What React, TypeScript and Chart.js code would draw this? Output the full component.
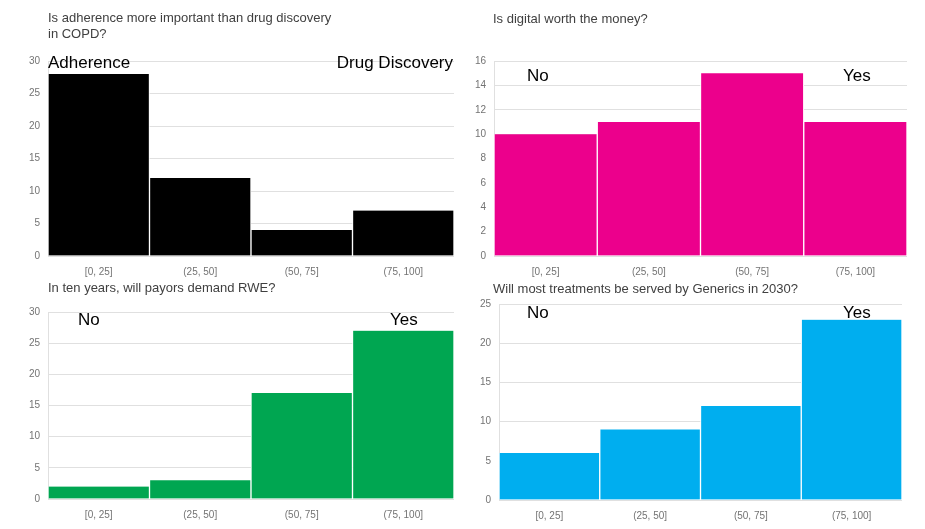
import React, { useEffect, useRef } from "react";
import { Chart, registerables } from "chart.js";

Chart.register(...registerables);

// ---- data ----
const categories = ["[0, 25]", "(25, 50]", "(50, 75]", "(75, 100]"];
const copdValues = [28, 12, 4, 7];
const digitalValues = [10, 11, 15, 11];
const rweValues = [2, 3, 17, 27];
const genericsValues = [6, 9, 12, 23];
const yMaxes = [30, 16, 30, 25];
const ySteps = [5, 2, 5, 5];
const titles = [
  ["Is adherence more important than drug discovery", "in COPD?"],
  ["Is digital worth the money?"],
  ["In ten years, will payors demand RWE?"],
  ["Will most treatments be served by Generics in 2030?"],
];

const FONT = "'Liberation Sans', Arial, sans-serif";
const Y_W = 40;
const X_H = 30;
const PAD_T = 20;
const PAD_R = 10;

type Rect = { left: number; right: number; top: number; bottom: number };

function Panel({
  values,
  color,
  max,
  step,
  plot,
}: {
  values: number[];
  color: string;
  max: number;
  step: number;
  plot: Rect;
}) {
  const ref = useRef<HTMLCanvasElement | null>(null);
  const x = plot.left - Y_W;
  const y = plot.top - PAD_T;
  const w = plot.right + PAD_R - x;
  const h = plot.bottom + X_H - y;

  useEffect(() => {
    if (!ref.current) return;
    const chart = new Chart(ref.current, {
      type: "bar",
      data: {
        labels: categories,
        datasets: [
          {
            data: values,
            backgroundColor: color,
            borderColor: "#ffffff",
            borderWidth: { left: 1, right: 1, top: 0, bottom: 0 } as any,
            borderSkipped: false,
            barPercentage: 1,
            categoryPercentage: 1,
          },
        ],
      },
      options: {
        responsive: false,
        maintainAspectRatio: false,
        animation: false,
        layout: { padding: { top: PAD_T, right: PAD_R, left: 0, bottom: 0 } },
        plugins: { legend: { display: false }, tooltip: { enabled: false } },
        scales: {
          x: {
            grid: { display: false, drawTicks: false },
            border: { display: false },
            ticks: {
              padding: 10,
              color: "#737373",
              font: { family: FONT, size: 10 },
              maxRotation: 0,
            },
            afterFit: (s: any) => {
              s.height = X_H;
            },
          },
          y: {
            min: 0,
            max,
            ticks: {
              stepSize: step,
              padding: 8,
              color: "#737373",
              font: { family: FONT, size: 10 },
            },
            grid: { color: "#e0e0e0", drawTicks: false },
            border: { display: true, color: "#e0e0e0" },
            afterFit: (s: any) => {
              s.width = Y_W;
            },
          },
        },
      },
    });
    return () => chart.destroy();
  }, []);

  return (
    <canvas
      ref={ref}
      width={w}
      height={h}
      style={{ position: "absolute", left: x, top: y, width: w, height: h }}
    />
  );
}

const titleStyle: React.CSSProperties = {
  position: "absolute",
  fontFamily: FONT,
  fontSize: 13,
  lineHeight: "16px",
  color: "#404040",
  whiteSpace: "nowrap",
};
const noteStyle: React.CSSProperties = {
  position: "absolute",
  fontFamily: FONT,
  fontSize: 17,
  lineHeight: "20px",
  color: "#000000",
  whiteSpace: "nowrap",
};

export default function App() {
  return (
    <div
      style={{
        position: "absolute",
        left: 0,
        top: 0,
        width: 925,
        height: 529,
        background: "#ffffff",
        overflow: "hidden",
      }}
    >
      <Panel values={copdValues} color="#000000" max={yMaxes[0]} step={ySteps[0]} plot={{ left: 48, right: 454, top: 61, bottom: 256 }} />
      <Panel values={digitalValues} color="#EC008C" max={yMaxes[1]} step={ySteps[1]} plot={{ left: 494, right: 907, top: 61, bottom: 256 }} />
      <Panel values={rweValues} color="#00A651" max={yMaxes[2]} step={ySteps[2]} plot={{ left: 48, right: 454, top: 312, bottom: 499 }} />
      <Panel values={genericsValues} color="#00AEEF" max={yMaxes[3]} step={ySteps[3]} plot={{ left: 499, right: 902, top: 304, bottom: 500 }} />

      <div style={{ ...titleStyle, left: 48, top: 10 }}>
        {titles[0][0]}
        <br />
        {titles[0][1]}
      </div>
      <div style={{ ...titleStyle, left: 493, top: 11 }}>{titles[1][0]}</div>
      <div style={{ ...titleStyle, left: 48, top: 280 }}>{titles[2][0]}</div>
      <div style={{ ...titleStyle, left: 493, top: 281 }}>{titles[3][0]}</div>

      <div style={{ ...noteStyle, left: 48, top: 53 }}>Adherence</div>
      <div style={{ ...noteStyle, right: 925 - 453, top: 53 }}>Drug Discovery</div>
      <div style={{ ...noteStyle, left: 527, top: 66 }}>No</div>
      <div style={{ ...noteStyle, left: 843, top: 66 }}>Yes</div>
      <div style={{ ...noteStyle, left: 78, top: 310 }}>No</div>
      <div style={{ ...noteStyle, left: 390, top: 310 }}>Yes</div>
      <div style={{ ...noteStyle, left: 527, top: 303 }}>No</div>
      <div style={{ ...noteStyle, left: 843, top: 303 }}>Yes</div>
    </div>
  );
}
